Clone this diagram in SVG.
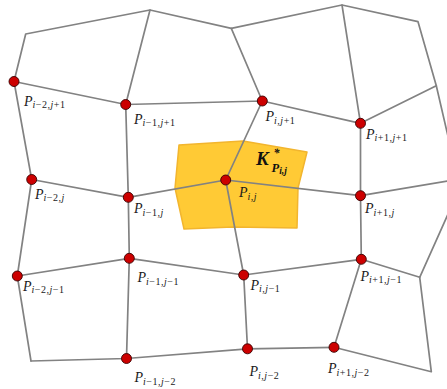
<svg xmlns="http://www.w3.org/2000/svg" width="447" height="389" viewBox="0 0 447 389">
<style>
.edge{stroke:#828282;stroke-width:1.7;fill:none;stroke-linecap:round;stroke-linejoin:round}
.node{fill:#CC0000;stroke:#3a0000;stroke-width:0.9}
.cell{fill:#FFCA35;stroke:#F2B52E;stroke-width:1.5;stroke-linejoin:round}
.lbl{font-family:"Liberation Serif","Times New Roman",serif;fill:#1a1a1a}
.P{font-style:italic;font-size:14px}
.sub{font-size:10px;letter-spacing:0.5px}
.it{font-style:italic}
.K{font-family:"Liberation Serif","Times New Roman",serif;font-weight:bold;font-style:italic;fill:#111}
</style>
<rect width="447" height="389" fill="#ffffff"/>
<g id="dual-cell">
<polygon class="cell" points="179,145 243,141 307,152 298,188 297,228 233,227 184,229 175,188"/>
</g>
<g id="connectors">
<polyline class="edge" points="14,81.5 25.7,34 150,10 231.3,28.3 342,5 418,21.7 436.3,85.7 450,145"/>
<line class="edge" x1="150" y1="10" x2="125.7" y2="104.5"/>
<line class="edge" x1="231.3" y1="28.3" x2="262.3" y2="101"/>
<line class="edge" x1="342" y1="5" x2="360.5" y2="123.3"/>
<line class="edge" x1="436.3" y1="85.7" x2="360.5" y2="123.3"/>
<polyline class="edge" points="14,81.5 125.7,104.5 262.3,101 360.5,123.3"/>
<polyline class="edge" points="31.7,179.5 128.3,197.3 225.7,180 360.5,195.7 452,180.2"/>
<polyline class="edge" points="17.3,276 129.3,258.3 243.7,275 361.3,259.3 419.7,277.3 452,205.3"/>
<polyline class="edge" points="31,361 126.5,358.5 247.5,348.8 334,347.3 431.3,371.7 419.7,277.3"/>
<polyline class="edge" points="14,81.5 31.7,179.5 17.3,276 31,361"/>
<polyline class="edge" points="125.7,104.5 128.3,197.3 129.3,258.3 126.5,358.5"/>
<polyline class="edge" points="262.3,101 225.7,180 243.7,275 247.5,348.8"/>
<polyline class="edge" points="360.5,123.3 360.5,195.7 361.3,259.3 334,347.3"/>
</g>
<g id="P_im2_jp1"><circle class="node" cx="14" cy="81.5" r="5"/><text class="lbl" x="24" y="105.5"><tspan class="P">P</tspan><tspan class="sub" dy="2.5"><tspan class="it">i</tspan>−2,<tspan class="it">j</tspan>+1</tspan></text></g>
<g id="P_im1_jp1"><circle class="node" cx="125.7" cy="104.5" r="5"/><text class="lbl" x="134" y="123.5"><tspan class="P">P</tspan><tspan class="sub" dy="2.5"><tspan class="it">i</tspan>−1,<tspan class="it">j</tspan>+1</tspan></text></g>
<g id="P_i_jp1"><circle class="node" cx="262.3" cy="101" r="5"/><text class="lbl" x="265.5" y="121"><tspan class="P">P</tspan><tspan class="sub" dy="2.5"><tspan class="it">i</tspan>,<tspan class="it">j</tspan>+1</tspan></text></g>
<g id="P_ip1_jp1"><circle class="node" cx="360.5" cy="123.3" r="5"/><text class="lbl" x="366" y="138.5"><tspan class="P">P</tspan><tspan class="sub" dy="2.5"><tspan class="it">i</tspan>+1,<tspan class="it">j</tspan>+1</tspan></text></g>
<g id="P_im2_j"><circle class="node" cx="31.7" cy="179.5" r="5"/><text class="lbl" x="35" y="198.5"><tspan class="P">P</tspan><tspan class="sub" dy="2.5"><tspan class="it">i</tspan>−2,<tspan class="it">j</tspan></tspan></text></g>
<g id="P_im1_j"><circle class="node" cx="128.3" cy="197.3" r="5"/><text class="lbl" x="134" y="213"><tspan class="P">P</tspan><tspan class="sub" dy="2.5"><tspan class="it">i</tspan>−1,<tspan class="it">j</tspan></tspan></text></g>
<g id="P_i_j"><circle class="node" cx="225.7" cy="180" r="5"/><text class="lbl" x="239" y="197"><tspan class="P">P</tspan><tspan class="sub" dy="2.5"><tspan class="it">i</tspan>,<tspan class="it">j</tspan></tspan></text></g>
<g id="P_ip1_j"><circle class="node" cx="360.5" cy="195.7" r="5"/><text class="lbl" x="365" y="213"><tspan class="P">P</tspan><tspan class="sub" dy="2.5"><tspan class="it">i</tspan>+1,<tspan class="it">j</tspan></tspan></text></g>
<g id="P_im2_jm1"><circle class="node" cx="17.3" cy="276" r="5"/><text class="lbl" x="23" y="290.5"><tspan class="P">P</tspan><tspan class="sub" dy="2.5"><tspan class="it">i</tspan>−2,<tspan class="it">j</tspan>−1</tspan></text></g>
<g id="P_im1_jm1"><circle class="node" cx="129.3" cy="258.3" r="5"/><text class="lbl" x="137.5" y="282"><tspan class="P">P</tspan><tspan class="sub" dy="2.5"><tspan class="it">i</tspan>−1,<tspan class="it">j</tspan>−1</tspan></text></g>
<g id="P_i_jm1"><circle class="node" cx="243.7" cy="275" r="5"/><text class="lbl" x="250.5" y="289.5"><tspan class="P">P</tspan><tspan class="sub" dy="2.5"><tspan class="it">i</tspan>,<tspan class="it">j</tspan>−1</tspan></text></g>
<g id="P_ip1_jm1"><circle class="node" cx="361.3" cy="259.3" r="5"/><text class="lbl" x="360.5" y="280.5"><tspan class="P">P</tspan><tspan class="sub" dy="2.5"><tspan class="it">i</tspan>+1,<tspan class="it">j</tspan>−1</tspan></text></g>
<g id="P_im1_jm2"><circle class="node" cx="126.5" cy="358.5" r="5"/><text class="lbl" x="134.5" y="382"><tspan class="P">P</tspan><tspan class="sub" dy="2.5"><tspan class="it">i</tspan>−1,<tspan class="it">j</tspan>−2</tspan></text></g>
<g id="P_i_jm2"><circle class="node" cx="247.5" cy="348.8" r="5"/><text class="lbl" x="249.5" y="376"><tspan class="P">P</tspan><tspan class="sub" dy="2.5"><tspan class="it">i</tspan>,<tspan class="it">j</tspan>−2</tspan></text></g>
<g id="P_ip1_jm2"><circle class="node" cx="334" cy="347.3" r="5"/><text class="lbl" x="328" y="373"><tspan class="P">P</tspan><tspan class="sub" dy="2.5"><tspan class="it">i</tspan>+1,<tspan class="it">j</tspan>−2</tspan></text></g>
<g id="K_label">
<text class="K" x="256" y="165" font-size="19">K<tspan x="273.5" y="157" font-size="12">*</tspan><tspan x="271.5" y="171.5" font-size="12.5">P</tspan><tspan font-size="9.5" dy="2">i,j</tspan></text>
</g>
</svg>
